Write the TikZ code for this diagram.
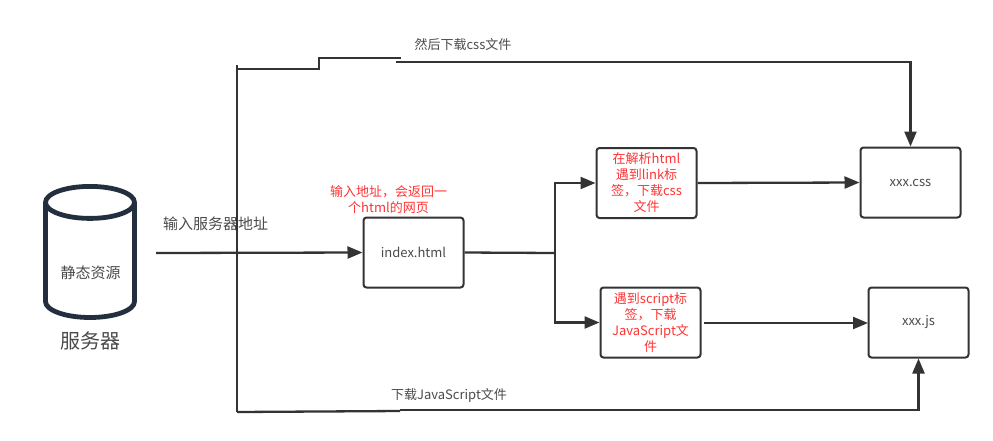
\documentclass[tikz,border=0pt]{standalone}
\usepackage{fontspec}
\setmainfont{Noto Sans CJK SC}
\usetikzlibrary{positioning,arrows.meta}

\definecolor{linecol}{HTML}{333333}
\definecolor{textcol}{HTML}{4A4A4A}
\definecolor{notecol}{HTML}{FF3333}
\definecolor{dbcol}{HTML}{232F3E}

\begin{document}
\begin{tikzpicture}[
  x=1pt,
  y=-1pt,
  >={Triangle[length=15pt,width=12pt]},
  every node/.style={font=\fontsize{13}{16}\selectfont, text=textcol, inner sep=0pt},
  box/.style={draw=linecol, line width=2pt, rounded corners=3pt, minimum width=100pt, minimum height=70pt, align=center},
  note/.style={text=notecol, align=center},
  arrow/.style={->, draw=linecol, line width=2.3pt},
  wire/.style={draw=linecol, line width=2.3pt}
]
\useasboundingbox (0,0) rectangle (993,440);

% Servidor (cilindro)
\draw[draw=dbcol, line width=4.8pt] (45.5,202.4) arc[start angle=180, end angle=-180, x radius=44.5, y radius=16]
  -- (45.5,301.5) arc[start angle=180, end angle=0, x radius=44.5, y radius=16] -- (134.5,202.4);
\node[font=\fontsize{15}{18}\selectfont] (db) at (90.5,273) {静态资源};
\node[font=\fontsize{20}{24}\selectfont] (server) at (90.5,341) {服务器};

% Cajas
\node[box] (index) at (413.5,252.5) {index.html};
\node[box, note] (parsecss) at (646.5,183) {在解析html\\遇到link标\\签，下载css\\文件};
\node[box, note] (parsejs) at (650.5,322.5) {遇到script标\\签，下载\\JavaScript文\\件};
\node[box] (css) at (910.5,182.5) {xxx.css};
\node[box] (js) at (918.5,322.5) {xxx.js};

% Textos sueltos
\node[font=\fontsize{15}{18}\selectfont] (addr) at (215.5,224) {输入服务器地址};
\node[note] (addrnote) at (388.5,200) {输入地址，会返回一\\个html的网页};
\node (topnote) at (463,45) {然后下载css文件};
\node (botnote) at (449,395) {下载JavaScript文件};

% Puntos libres
\coordinate (start) at (156,253);
\coordinate (trunktop) at (237,65);
\coordinate (trunkbot) at (237,412);
\coordinate (stepa) at (237,69);
\coordinate (stepb) at (319,58);
\coordinate (stepc) at (401,58);
\coordinate (topstart) at (396,62);
\coordinate (botmid) at (400,411);
\coordinate (botstart) at (400,410);
\coordinate (fork) at (555,253);
\coordinate (cssout) at (704,323);
\coordinate (jstail) at (868,323);

% Flechas
\draw[arrow] (start) -- (index.west);
\draw[wire] (trunktop) -- (trunkbot);
\draw[wire] (stepa) -| (stepb) -- (stepc);
\draw[arrow] (topstart) -| (css.north);
\draw[wire] (trunkbot) -- (botmid);
\draw[arrow] (botstart) -| (js.south);
\draw[wire] (index.east) -- (fork);
\draw[arrow] (fork) |- (parsecss.west);
\draw[arrow] (fork) |- (parsejs.west);
\draw[arrow] (parsecss.east) -- (css.west);
\draw[arrow] (cssout) -- (jstail);

\end{tikzpicture}
\end{document}
